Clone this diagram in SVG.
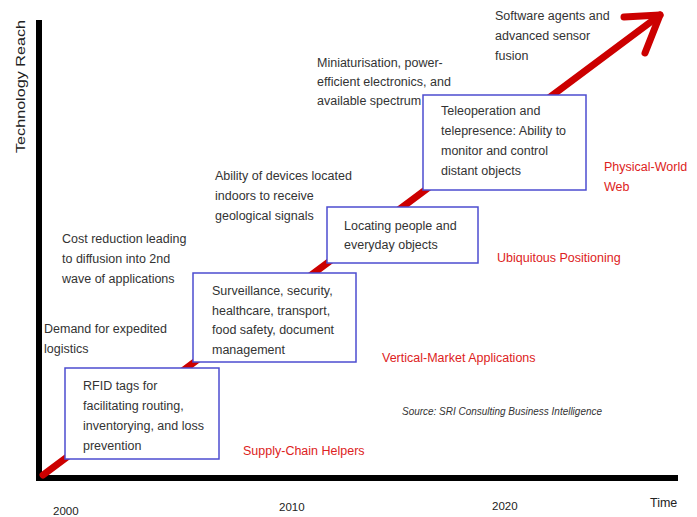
<svg xmlns="http://www.w3.org/2000/svg" width="697" height="517" viewBox="0 0 697 517">
  <style>
    .t { font-family: "Liberation Sans", Arial, sans-serif; font-size: 12.5px; fill: #333333; }
    .cat { font-family: "Liberation Sans", Arial, sans-serif; font-size: 12.5px; fill: #dd2222; }
    .yr { font-family: "Liberation Sans", Arial, sans-serif; font-size: 11.5px; fill: #222222; }
    .box { fill: #ffffff; stroke: #4c4cd0; stroke-width: 1.5; }
    .trend { fill: none; stroke: #cc0000; stroke-width: 7; stroke-linecap: round; stroke-linejoin: round; }
    .axis { stroke: #000000; stroke-width: 6; }
  </style>

  <rect width="697" height="517" fill="#ffffff"/>

  <!-- axes -->
  <g id="axes">
    <line class="axis" x1="39" y1="20" x2="39" y2="481"/>
    <line class="axis" x1="36" y1="478" x2="678" y2="478"/>
    <text class="yr" transform="translate(24.5,153) rotate(-90)" textLength="133" lengthAdjust="spacingAndGlyphs" style="font-size:12.5px">Technology Reach</text>
    <text class="yr" x="53" y="515">2000</text>
    <text class="yr" x="279" y="511">2010</text>
    <text class="yr" x="492" y="510">2020</text>
    <text class="yr" x="650" y="507" style="font-size:12.5px">Time</text>
  </g>

  <!-- growth trend arrow -->
  <g id="connectors">
    <line class="trend" x1="43" y1="475" x2="660" y2="15"/>
    <polyline class="trend" points="624,17 660,15 645,53"/>
  </g>

  <!-- milestone boxes -->
  <g id="rfid">
    <rect class="box" x="65" y="368" width="154" height="91"/>
    <text class="t" x="83" y="390">RFID tags for</text>
    <text class="t" x="83" y="410">facilitating routing,</text>
    <text class="t" x="83" y="430">inventorying, and loss</text>
    <text class="t" x="83" y="450">prevention</text>
  </g>

  <g id="surveillance">
    <rect class="box" x="193" y="273" width="163" height="89"/>
    <text class="t" x="212" y="295">Surveillance, security,</text>
    <text class="t" x="212" y="315">healthcare, transport,</text>
    <text class="t" x="212" y="334">food safety, document</text>
    <text class="t" x="212" y="354">management</text>
  </g>

  <g id="locating">
    <rect class="box" x="327" y="207" width="151" height="56"/>
    <text class="t" x="344" y="230">Locating people and</text>
    <text class="t" x="344" y="249">everyday objects</text>
  </g>

  <g id="teleoperation">
    <rect class="box" x="423" y="95" width="163" height="95"/>
    <text class="t" x="441" y="115">Teleoperation and</text>
    <text class="t" x="441" y="135">telepresence: Ability to</text>
    <text class="t" x="441" y="155">monitor and control</text>
    <text class="t" x="441" y="175">distant objects</text>
  </g>

  <!-- drivers -->
  <g id="driver-demand">
    <text class="t" x="44" y="333">Demand for expedited</text>
    <text class="t" x="44" y="353">logistics</text>
  </g>
  <g id="driver-cost">
    <text class="t" x="62" y="243">Cost reduction leading</text>
    <text class="t" x="62" y="263">to diffusion into 2nd</text>
    <text class="t" x="62" y="283">wave of applications</text>
  </g>
  <g id="driver-indoor">
    <text class="t" x="215" y="180">Ability of devices located</text>
    <text class="t" x="215" y="200">indoors to receive</text>
    <text class="t" x="215" y="220">geological signals</text>
  </g>
  <g id="driver-mini">
    <text class="t" x="317" y="67">Miniaturisation, power-</text>
    <text class="t" x="317" y="86">efficient electronics, and</text>
    <text class="t" x="317" y="105">available spectrum</text>
  </g>
  <g id="driver-agents">
    <text class="t" x="495" y="20">Software agents and</text>
    <text class="t" x="495" y="40">advanced sensor</text>
    <text class="t" x="495" y="60">fusion</text>
  </g>

  <!-- phase labels -->
  <g id="phase-supply">
    <text class="cat" x="243" y="455">Supply-Chain Helpers</text>
  </g>
  <g id="phase-vertical">
    <text class="cat" x="382" y="362">Vertical-Market Applications</text>
  </g>
  <g id="phase-ubiquitous">
    <text class="cat" x="497" y="262">Ubiquitous Positioning</text>
  </g>
  <g id="phase-web">
    <text class="cat" x="604" y="171">Physical-World</text>
    <text class="cat" x="604" y="191">Web</text>
  </g>

  <text x="402" y="415" font-family="Liberation Sans, Arial, sans-serif" font-size="10" font-style="italic" fill="#333333" textLength="200" lengthAdjust="spacingAndGlyphs">Source: SRI Consulting Business Intelligence</text>
</svg>
